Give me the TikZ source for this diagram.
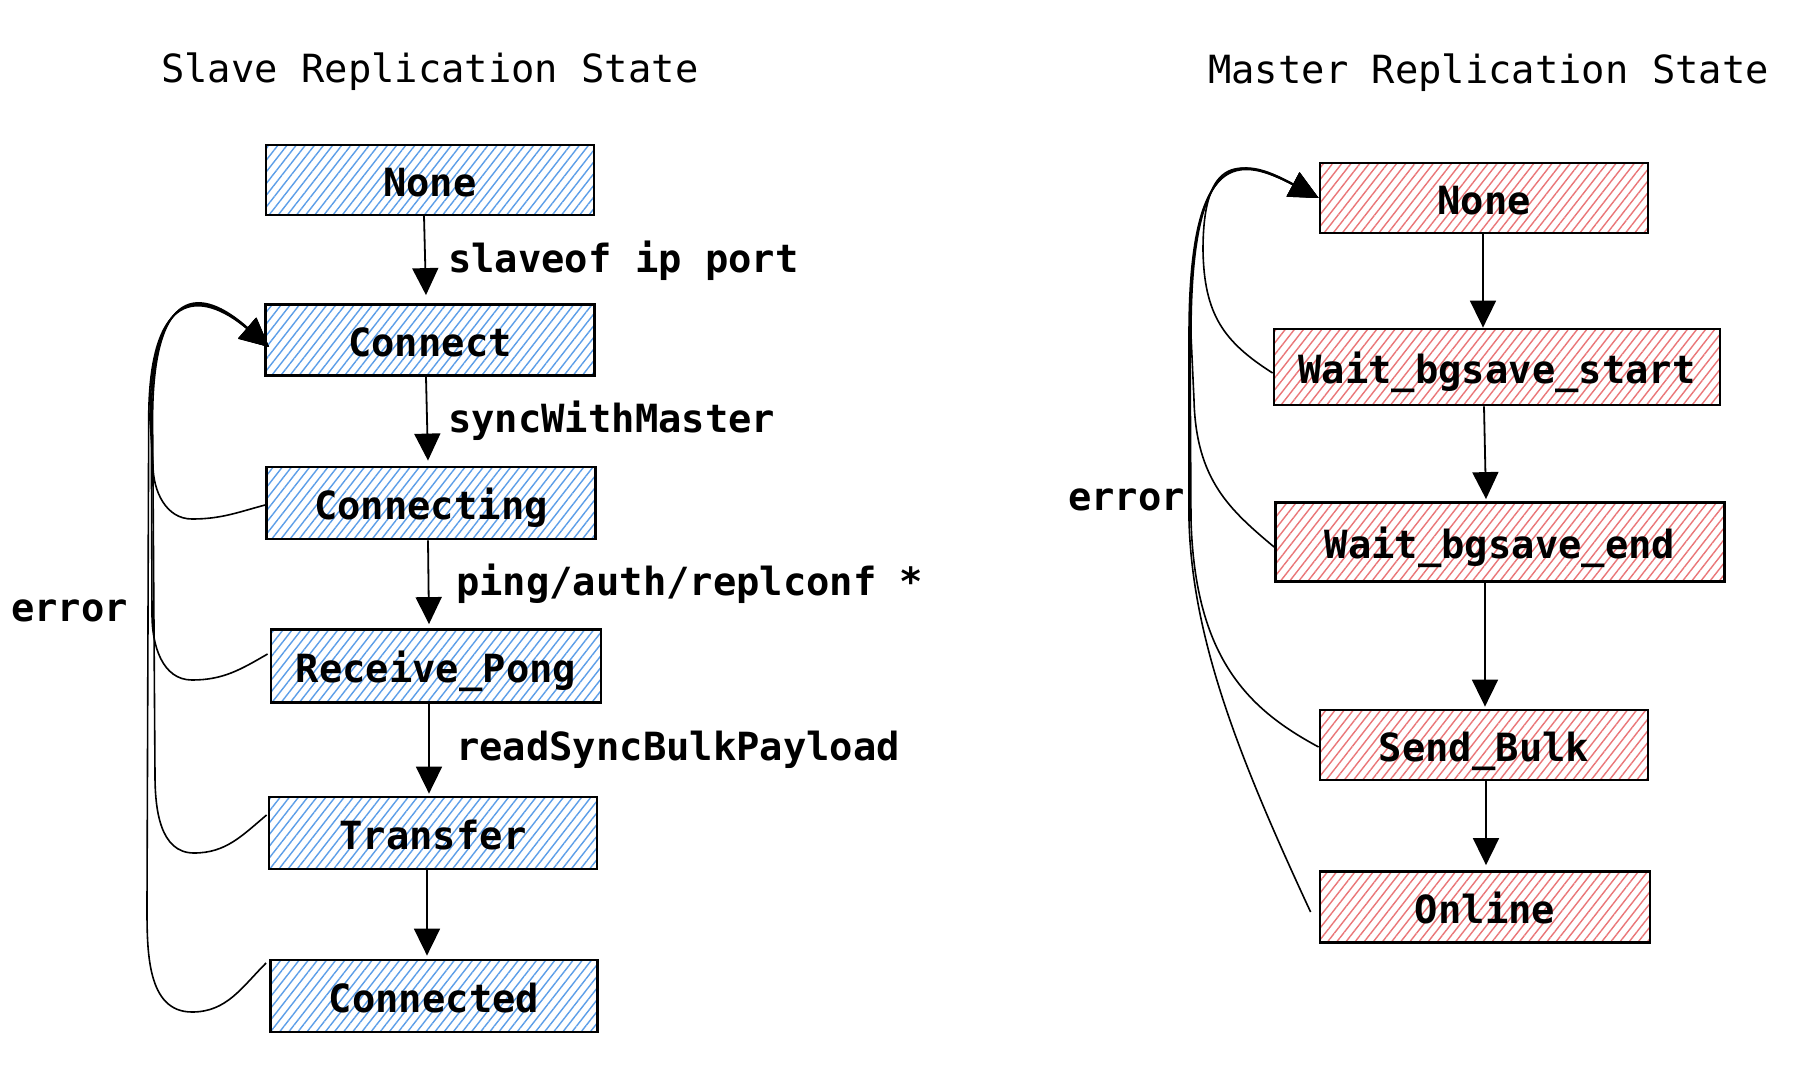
\documentclass[tikz,border=0pt]{standalone}
\usepackage{fontspec}
\setmainfont{DejaVu Sans Mono}
\newfontfamily\monofont{DejaVu Sans Mono}
\usetikzlibrary{arrows.meta,patterns.meta,calc}
\definecolor{hblue}{RGB}{92,158,232}
\definecolor{hred}{RGB}{234,118,120}
\begin{document}
\begin{tikzpicture}[x=1pt,y=-1pt,
  box/.style={draw=black, line width=2.8pt, inner sep=0pt, text height=32pt, text depth=0pt,
    font=\monofont\bfseries\fontsize{38.8}{46}\selectfont},
  sbox/.style={box, pattern={Lines[angle=52,distance=7.2pt,line width=1.4pt]}, pattern color=hblue},
  mbox/.style={box, pattern={Lines[angle=52,distance=7.2pt,line width=1.4pt]}, pattern color=hred},
  ttl/.style={inner sep=0pt, anchor=base west, font=\monofont\fontsize{38.8}{46}\selectfont},
  lbl/.style={inner sep=0pt, anchor=base west, font=\monofont\bfseries\fontsize{38.8}{46}\selectfont},
  arr/.style={line width=1.8pt, -{Triangle[length=27pt,width=26pt]}},
  err/.style={line width=1.6pt, -{Triangle[length=29pt,width=27pt]}},
]
\path[fill=white] (0,0) rectangle (1800,1074);

% titles
\node[ttl] (tslave) at (161,82) {Slave Replication State};
\node[ttl] (tmaster) at (1208,83) {Master Replication State};

% slave boxes
\node[sbox, minimum width=328pt, minimum height=70pt] (snone) at (430,180) {None};
\node[sbox, minimum width=329pt, minimum height=71pt] (sconnect) at (430,340) {Connect};
\node[sbox, minimum width=329pt, minimum height=72pt] (sconnecting) at (431,503) {Connecting};
\node[sbox, minimum width=330pt, minimum height=73pt] (spong) at (436,666) {Receive\_Pong};
\node[sbox, minimum width=328pt, minimum height=72pt] (stransfer) at (433,833) {Transfer};
\node[sbox, minimum width=327pt, minimum height=72pt] (sconnected) at (434,996) {Connected};

% master boxes
\node[mbox, minimum width=328pt, minimum height=70pt] (mnone) at (1484,198) {None};
\node[mbox, minimum width=446pt, minimum height=76pt] (mstart) at (1497,367) {Wait\_bgsave\_start};
\node[mbox, minimum width=449pt, minimum height=79pt] (mend) at (1500,542) {Wait\_bgsave\_end};
\node[mbox, minimum width=328pt, minimum height=70pt] (mbulk) at (1484,745) {Send\_Bulk};
\node[mbox, minimum width=330pt, minimum height=71pt] (monline) at (1485,907) {Online};

% slave transitions
\draw[arr] ($(snone.south)+(-6,0)$) -- ($(sconnect.north)+(-4,-8)$);
\draw[arr] ($(sconnect.south)+(-4,0)$) -- ($(sconnecting.north)+(-3,-5)$);
\draw[arr] ($(sconnecting.south)+(-3,0)$) -- ($(spong.north)+(-7,-4)$);
\draw[arr] ($(spong.south)+(-7,0)$) -- ($(stransfer.north)+(-4,-2)$);
\draw[arr] ($(stransfer.south)+(-6,0)$) -- ($(sconnected.north)+(-7,-3)$);

\node[lbl] (lslaveof) at (448,272) {slaveof ip port};
\node[lbl] (lsync) at (448,432) {syncWithMaster};
\node[lbl] (lping) at (456,595) {ping/auth/replconf *};
\node[lbl] (lread) at (456,760) {readSyncBulkPayload};
\node[lbl] (lerrs) at (11,621) {error};

% slave error returns
\coordinate (stip) at ($(sconnect.west)+(5,7)$);
\draw[err] ($(sconnecting.west)+(0,2)$) to[out=195,in=0] (192,519) to[out=180,in=-90] (153,465)
  -- (150,420) .. controls (150,288) and (200,288) .. (stip);
\draw[err] ($(spong.west)+(-2,-12)$) to[out=210,in=0] (192,680) to[out=180,in=-90] (152,615)
  -- (151.3,420) .. controls (151.3,286.7) and (200,286.7) .. (stip);
\draw[err] ($(stransfer.west)+(-1,-18)$) to[out=220,in=0] (194,853) to[out=180,in=-90] (155,775)
  -- (152.6,420) .. controls (152.6,285.4) and (200,285.4) .. (stip);
\draw[err] ($(sconnected.west)+(-3,-33)$) to[out=225,in=0] (192,1012) to[out=180,in=-90] (147,905)
  -- (148.7,420) .. controls (148.7,289.3) and (200,289.3) .. (stip);

% master transitions
\draw[arr] ($(mnone.south)+(-1,0)$) -- ($(mstart.north)+(-14,0)$);
\draw[arr] ($(mstart.south)+(-13,0)$) -- ($(mend.north)+(-14,-2)$);
\draw[arr] ($(mend.south)+(-15,0)$) -- ($(mbulk.north)+(1,-2)$);
\draw[arr] ($(mbulk.south)+(2,0)$) -- ($(monline.north)+(1,-5)$);

\node[lbl] (lerrm) at (1068,510) {error};

% master error returns
\coordinate (mtip) at (mnone.west);
\draw[err] ($(mstart.west)+(0,6)$) .. controls (1224,342) and (1204,315) .. (1203,250)
  .. controls (1203,155) and (1240,157) .. (mtip);
\draw[err] ($(mend.west)+(0,5)$) .. controls (1230,510) and (1196,480) .. (1194,400)
  -- (1191,335) .. controls (1191,145) and (1240,155) .. (mtip);
\draw[err] ($(mbulk.west)+(0,2)$) .. controls (1250,710) and (1195,660) .. (1191,520)
  -- (1190,335) .. controls (1190,146) and (1240,156) .. (mtip);
\draw[err] ($(monline.west)+(-8,5)$) .. controls (1240,760) and (1192,640) .. (1189,520)
  -- (1189,335) .. controls (1189,147) and (1240,157) .. (mtip);
\end{tikzpicture}
\end{document}
